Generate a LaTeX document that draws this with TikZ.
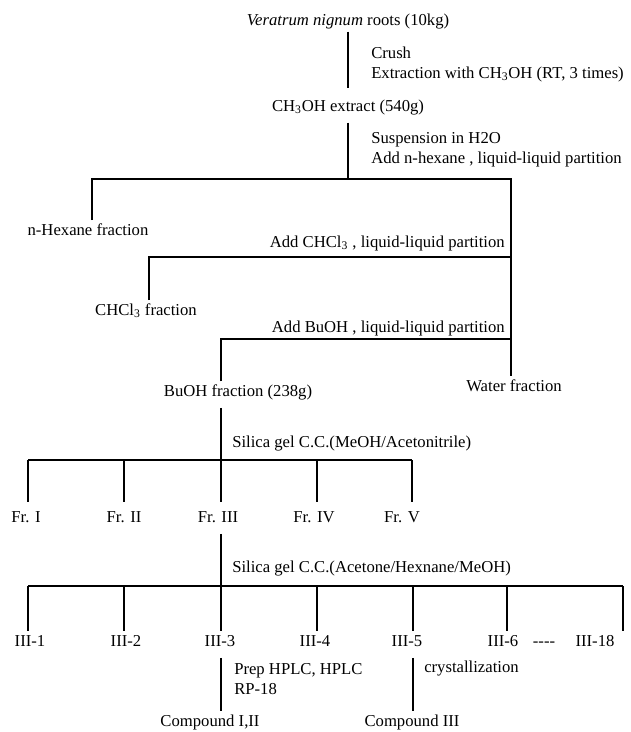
\documentclass[tikz,border=0pt]{standalone}
\usepackage{fontspec}
\setmainfont{Liberation Serif}
\tikzset{
  lbl/.style={font=\fontsize{10}{12}\selectfont, text height=7pt, text depth=2pt, inner sep=1.5pt},
  note/.style={font=\fontsize{10}{12}\selectfont, align=left, anchor=west, inner sep=1.5pt},
  noteright/.style={lbl, anchor=east}
}
\begin{document}
\begin{tikzpicture}[x=0.6pt,y=-0.6pt,line width=0.9pt]
  \useasboundingbox (0,0) rectangle (630,732);
  % extraction
  \node[lbl] (root) at (348,21) {\textit{Veratrum nignum} roots (10kg)};
  \node[lbl] (extract) at (348,107) {CH\textsubscript{3}OH extract (540g)};
  \node[note] (crush) at (368,64) {Crush\\Extraction with CH\textsubscript{3}OH (RT, 3 times)};
  \draw[shorten >=5pt] (root.south) -- (extract.north);
  % partition
  \coordinate (split) at (348,179);
  \coordinate (wall) at (511,179);
  \coordinate (hexdrop) at (92,179);
  \coordinate (chdrop) at (149,257);
  \coordinate (budrop) at (221,339);
  \node[note] (susp) at (368,150) {Suspension in H2O\\Add n-hexane , liquid-liquid partition};
  \node[lbl] (hexane) at (88,231) {n-Hexane fraction};
  \node[lbl] (chcl) at (146,311) {CHCl\textsubscript{3} fraction};
  \node[lbl] (buoh) at (238,392) {BuOH fraction (238g)};
  \node[lbl] (water) at (514,387) {Water fraction};
  \node[noteright] (addch) at (508,243) {Add CHCl\textsubscript{3} , liquid-liquid partition};
  \node[noteright] (addbu) at (508,328) {Add BuOH , liquid-liquid partition};
  \draw[shorten <=3pt] (extract.south) -- (split);
  \draw (hexdrop |- hexane.north) -- (hexdrop) -- (wall) -- (wall |- water.north);
  \draw (chdrop |- chcl.north) -- (chdrop) -- (wall |- chdrop);
  \draw (budrop |- buoh.north) -- (budrop) -- (wall |- budrop);
  % first column
  \coordinate (frbar) at (221,460);
  \node[lbl,anchor=west] (cc1) at (229,443) {Silica gel C.C.(MeOH/Acetonitrile)};
  \draw[shorten <=3pt] (buoh.south -| frbar) -- (frbar);
  \foreach \n/\t/\x/\d in {1/I/26/28, 2/II/124/124, 3/III/218/221, 4/IV/314/317, 5/V/402/412}{
    \node[lbl] (fr\n) at (\x,518) {Fr. \t};
    \coordinate (f\n) at (\d,460);
    \draw[shorten >=3pt] (f\n) -- (f\n |- fr\n.north);
  }
  \draw (f1) -- (f5);
  % second column
  \coordinate (subbar) at (221,586);
  \node[lbl,anchor=west] (cc2) at (229,568) {Silica gel C.C.(Acetone/Hexnane/MeOH)};
  \draw[shorten <=3pt] (fr3.south -| subbar) -- (subbar);
  \foreach \n/\x/\d in {1/30/28, 2/126/124, 3/220/221, 4/315/317, 5/407/413, 6/503/507, 18/595/623}{
    \node[lbl] (sub\n) at (\x,642) {III-\n};
    \coordinate (s\n) at (\d,586);
    \draw (s\n) -- (s\n |- sub\n.north);
  }
  \draw (s1) -- (s18);
  \node[lbl] (etc) at (544,642) {-{}-{}-{}-};
  % isolation
  \node[lbl] (cmpa) at (210,722) {Compound I,II};
  \node[lbl] (cmpb) at (412,722) {Compound III};
  \node[note] (hplc) at (231,679) {Prep HPLC, HPLC\\RP-18};
  \node[lbl,anchor=west] (cryst) at (421,668) {crystallization};
  \draw[shorten <=3pt] (sub3.south -| s3) -- (cmpa.north -| s3);
  \draw[shorten <=3pt] (sub5.south -| s5) -- (cmpb.north -| s5);
\end{tikzpicture}
\end{document}
